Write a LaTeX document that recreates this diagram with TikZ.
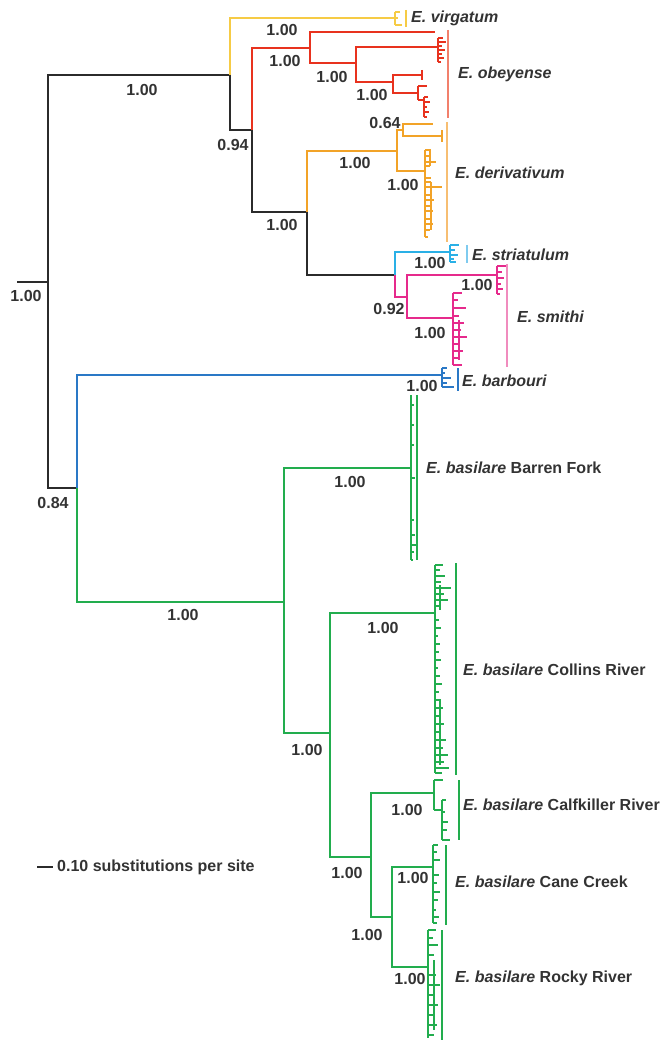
\documentclass[tikz,border=0pt]{standalone}
\usepackage{fontspec}
\setmainfont{Liberation Sans}
\usepackage{xcolor}
\usepackage{tikz}
\usetikzlibrary{positioning}
\definecolor{treeblk}{HTML}{2B2B2B}
\definecolor{txtgray}{HTML}{333333}
\definecolor{vyel}{HTML}{F6CB45}
\definecolor{ored}{HTML}{E8321E}
\definecolor{dorg}{HTML}{F2A328}
\definecolor{scyan}{HTML}{2AB0E6}
\definecolor{spink}{HTML}{E62A8C}
\definecolor{bblue}{HTML}{2A78C6}
\definecolor{bgrn}{HTML}{22AD4E}
\definecolor{obar}{HTML}{F2806C}
\definecolor{dbar}{HTML}{F7BE72}
\definecolor{sbar}{HTML}{7FCBEF}
\definecolor{pbar}{HTML}{F08CBE}

\begin{document}
\begin{tikzpicture}[x=1pt, y=-1pt,
  every node/.style={font=\fontsize{16}{18}\selectfont\bfseries,
    text=txtgray, inner sep=0pt},
  br/.style={line width=2.5pt},
  tip/.style={line width=1.3pt},
  bar/.style={line width=1.1pt},
  pval/.style={},
  taxon/.style={anchor=west}]

\useasboundingbox (0,0) rectangle (662,1040);

\coordinate (tRoot) at (17,282);
\coordinate (nR) at (48,282);
\coordinate (nA) at (230,75);
\coordinate (tVir) at (395,18);
\coordinate (nB) at (252,130);
\coordinate (nO1) at (310,48);
\coordinate (tO1) at (435,32);
\coordinate (nO2) at (356,63);
\coordinate (tO2) at (438,47);
\coordinate (nO3) at (393,82);
\coordinate (tO3) at (422,75);
\coordinate (nO4) at (418,93);
\coordinate (nC) at (307,212);
\coordinate (nD1) at (397,151);
\coordinate (nD64) at (403,130);
\coordinate (tD64a) at (433,124);
\coordinate (tD64b) at (442,136);
\coordinate (nD2) at (425,171);
\coordinate (nE) at (395,275);
\coordinate (tStr) at (450,252);
\coordinate (nF) at (407,297);
\coordinate (tSm) at (497,275);
\coordinate (nG) at (453,318);
\coordinate (nH) at (77,488);
\coordinate (tBarb) at (442,375);
\coordinate (nI) at (284,602);
\coordinate (tBF) at (411,468);
\coordinate (nJ) at (330,733);
\coordinate (tCol) at (435,613);
\coordinate (nK) at (371,857);
\coordinate (tCal) at (434,793);
\coordinate (nL) at (392,917);
\coordinate (tCan) at (433,867);
\coordinate (tRoc) at (428,967);

\draw [br, treeblk] (tRoot) -- (nR);
\draw [br, treeblk] (nR) |- (nA);
\draw [br, treeblk] (nR) |- (nH);
\draw [br, vyel] (nA) |- (tVir);
\draw [br, treeblk] (nA) |- (nB);
\draw [br, ored] (nB) |- (nO1);
\draw [br, treeblk] (nB) |- (nC);
\draw [br, ored] (nO1) |- (tO1);
\draw [br, ored] (nO1) |- (nO2);
\draw [br, ored] (nO2) |- (tO2);
\draw [br, ored] (nO2) |- (nO3);
\draw [br, ored] (nO3) |- (tO3);
\draw [br, ored] (nO3) |- (nO4);
\draw [br, dorg] (nC) |- (nD1);
\draw [br, treeblk] (nC) |- (nE);
\draw [br, dorg] (nD1) |- (nD64);
\draw [br, dorg] (nD1) |- (nD2);
\draw [br, dorg] (nD64) |- (tD64a);
\draw [br, dorg] (nD64) |- (tD64b);
\draw [br, scyan] (nE) |- (tStr);
\draw [br, spink] (nE) |- (nF);
\draw [br, spink] (nF) |- (tSm);
\draw [br, spink] (nF) |- (nG);
\draw [br, bblue] (nH) |- (tBarb);
\draw [br, bgrn] (nH) |- (nI);
\draw [br, bgrn] (nI) |- (tBF);
\draw [br, bgrn] (nI) |- (nJ);
\draw [br, bgrn] (nJ) |- (tCol);
\draw [br, bgrn] (nJ) |- (nK);
\draw [br, bgrn] (nK) |- (tCal);
\draw [br, bgrn] (nK) |- (nL);
\draw [br, bgrn] (nL) |- (tCan);
\draw [br, bgrn] (nL) |- (tRoc);

% tip clusters
\draw [tip, vyel] (395,12) -- (395,25);
\foreach \yy/\ll in {12/5,18/3,25/7} \draw [tip, vyel] (395,\yy) -- ++(\ll,0);
\draw [tip, ored] (438,38) -- (438,62);
\foreach \yy/\ll in {38/5,42/8,46/4,50/7,54/4,58/6,62/3} \draw [tip, ored] (438,\yy) -- ++(\ll,0);
\draw [tip, ored] (422,70) -- (422,80);
\draw [tip, ored] (418,86) -- (418,100);
\draw [tip, ored] (418,86) -- ++(9,0);
\draw [tip, ored] (418,100) -- ++(6,0);
\draw [tip, ored] (424,97) -- (424,117);
\foreach \yy/\ll in {97/4,102/6,107/3,112/5,117/3} \draw [tip, ored] (424,\yy) -- ++(\ll,0);
\draw [tip, dorg] (442,130) -- (442,142);
\draw [tip, dorg] (425,150) -- (425,237);
\draw [tip, dorg] (430,150) -- (430,166);
\draw [tip, dorg] (431,182) -- (431,230);
\foreach \yy/\ll in {150/6,156/4,162/11,166/5,178/6,182/6,187/17,195/7,200/9,206/5,211/8,219/6,224/8,230/5,237/3}
  \draw [tip, dorg] (425,\yy) -- ++(\ll,0);
\draw [tip, scyan] (450,245) -- (450,262);
\foreach \yy/\ll in {245/9,250/5,255/8,259/4,262/6} \draw [tip, scyan] (450,\yy) -- ++(\ll,0);
\draw [tip, spink] (497,266) -- (497,294);
\foreach \yy/\ll in {266/9,272/5,278/7,284/4,289/6,294/3} \draw [tip, spink] (497,\yy) -- ++(\ll,0);
\draw [tip, spink] (453,293) -- (453,365);
\draw [tip, spink] (459,320) -- (459,360);
\foreach \yy/\ll in {293/9,300/5,308/13,316/6,323/11,330/8,337/14,344/7,351/10,358/6,365/9}
  \draw [tip, spink] (453,\yy) -- ++(\ll,0);
\draw [tip, bblue] (442,368) -- (442,387);
\foreach \yy/\ll in {368/5,373/3,378/9,383/5,387/12} \draw [tip, bblue] (442,\yy) -- ++(\ll,0);
\draw [br, bgrn] (411,395) -- (411,560);
\foreach \yy/\ll in {405/3,425/3,445/3,478/4,520/3,535/4,545/5,552/3,560/2}
  \draw [tip, bgrn] (411,\yy) -- ++(\ll,0);
\draw [br, bgrn] (435,565) -- (435,773);
\draw [tip, bgrn] (440,585) -- (440,610);
\draw [tip, bgrn] (440,700) -- (440,765);
\foreach \yy/\ll in {565/8,570/5,576/10,582/6,588/16,594/9,600/13,606/5,620/4,628/6,636/3,644/5,652/4,
    660/6,668/3,676/5,684/7,692/4,700/6,708/8,716/5,724/9,732/6,740/11,748/8,755/13,762/9,768/14,773/7}
  \draw [tip, bgrn] (435,\yy) -- ++(\ll,0);
\draw [tip, bgrn] (434,780) -- (434,810);
\draw [tip, bgrn] (434,780) -- ++(9,0);
\draw [tip, bgrn] (434,810) -- (442,810);
\draw [tip, bgrn] (442,800) -- (442,840);
\foreach \yy/\ll in {800/4,812/3,822/6,830/5,840/8} \draw [tip, bgrn] (442,\yy) -- ++(\ll,0);
\draw [br, bgrn] (433,845) -- (433,923);
\foreach \yy/\ll in {845/5,852/4,860/7,875/6,883/4,892/7,900/5,910/3,917/6,923/4}
  \draw [tip, bgrn] (433,\yy) -- ++(\ll,0);
\draw [br, bgrn] (428,930) -- (428,1038);
\draw [tip, bgrn] (434,960) -- (434,1030);
\foreach \yy/\ll in {930/8,938/5,945/10,955/6,975/8,985/12,995/7,1005/10,1015/5,1025/9,1035/6}
  \draw [tip, bgrn] (428,\yy) -- ++(\ll,0);

% clade bars
\draw [bar, vyel] (406,10) -- (406,27);
\draw [bar, obar] (448,30) -- (448,118);
\draw [bar, dbar] (447,122) -- (447,242);
\draw [bar, sbar] (467,245) -- (467,263);
\draw [bar, pbar] (507,264) -- (507,367);
\draw [bar, bblue] (458,368) -- (458,391);
\draw [bar, bgrn] (417,395) -- (417,560);
\draw [bar, bgrn] (456,563) -- (456,775);
\draw [bar, bgrn] (459,780) -- (459,840);
\draw [bar, bgrn] (446,845) -- (446,925);
\draw [bar, bgrn] (442,930) -- (442,1040);

\node (lVir) [taxon] at (411,18) {\itshape E. virgatum};
\node (lObe) [taxon] at (458,74) {\itshape E. obeyense};
\node (lDer) [taxon] at (455,173) {\itshape E. derivativum};
\node (lStr) [taxon] at (472,255) {\itshape E. striatulum};
\node (lSmi) [taxon] at (517,317) {\itshape E. smithi};
\node (lBarb) [taxon] at (462,381) {\itshape E. barbouri};
\node (lBF) [taxon] at (426,468) {\textit{E. basilare} Barren Fork};
\node (lCol) [taxon] at (463,670) {\textit{E. basilare} Collins River};
\node (lCal) [taxon] at (463,805) {\textit{E. basilare} Calfkiller River};
\node (lCan) [taxon] at (455,882) {\textit{E. basilare} Cane Creek};
\node (lRoc) [taxon] at (455,978) {\textit{E. basilare} Rocky River};

\node (pR) [pval] at (26,296) {1.00};
\node (pA) [pval] at (142,90) {1.00};
\node (pVir) [pval] at (282,30) {1.00};
\node (pB) [pval] at (233,145) {0.94};
\node (pO1) [pval] at (285,61) {1.00};
\node (pO2) [pval] at (332,77) {1.00};
\node (pO3) [pval] at (372,95) {1.00};
\node (pD64) [pval] at (385,123) {0.64};
\node (pD1) [pval] at (355,163) {1.00};
\node (pD2) [pval] at (403,185) {1.00};
\node (pC) [pval] at (282,225) {1.00};
\node (pStr) [pval] at (430,263) {1.00};
\node (pSm) [pval] at (477,285) {1.00};
\node (pE) [pval] at (389,309) {0.92};
\node (pG) [pval] at (430,333) {1.00};
\node (pBarb) [pval] at (422,386) {1.00};
\node (pH) [pval] at (53,503) {0.84};
\node (pI) [pval] at (183,615) {1.00};
\node (pBF) [pval] at (350,482) {1.00};
\node (pCol) [pval] at (383,628) {1.00};
\node (pJ) [pval] at (307,750) {1.00};
\node (pCal) [pval] at (407,810) {1.00};
\node (pK) [pval] at (347,873) {1.00};
\node (pCan) [pval] at (413,878) {1.00};
\node (pL) [pval] at (367,935) {1.00};
\node (pRoc) [pval] at (410,979) {1.00};

\coordinate (sbA) at (37,867);
\coordinate (sbB) at (53,867);
\draw [br, treeblk] (sbA) -- (sbB);
\node (sbT) [taxon, right=4pt of sbB] {0.10 substitutions per site};

\end{tikzpicture}
\end{document}
